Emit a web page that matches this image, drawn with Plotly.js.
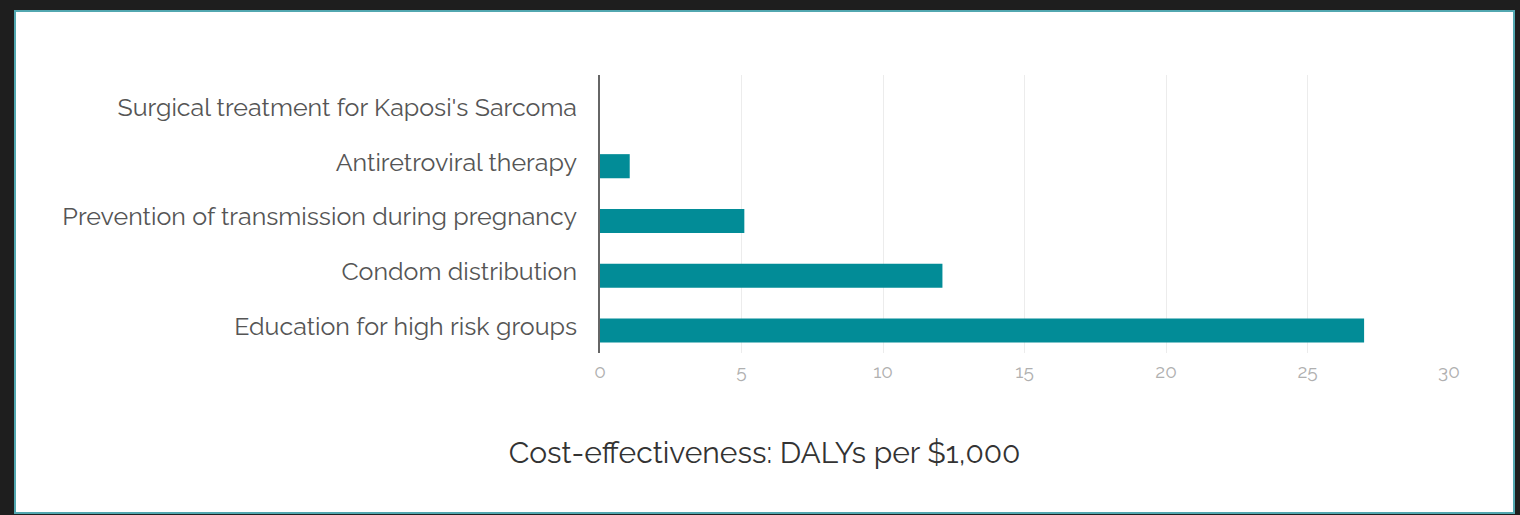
<!DOCTYPE html>
<html>
<head>
<meta charset="utf-8">
<script src="https://cdn.plot.ly/plotly-3.0.1.min.js"></script>
<style>
  html, body { margin: 0; padding: 0; background: #1e1e1e; width: 1520px; height: 515px; overflow: hidden; }
  #frame { position: absolute; left: 14px; top: 10px; width: 1497px; height: 500px; border: 2px solid #52a7b0; background: #ffffff; }
  #chart { position: absolute; left: 0; top: 0; width: 1520px; height: 515px; }
</style>
</head>
<body>
<div id="frame"></div>
<div id="chart"></div>
<script>
// Data (bottom to top)
const categories = [
  "Education for high risk groups",
  "Condom distribution",
  "Prevention of transmission during pregnancy",
  "Antiretroviral therapy",
  "Surgical treatment for Kaposi's Sarcoma"
];
const dalysPer1000 = [27.0, 12.1, 5.1, 1.05, 0];
const xTickValues = [0, 5, 10, 15, 20, 25, 30];
const titleText = "Cost-effectiveness: DALYs per $1,000";

const trace = {
  type: "bar",
  orientation: "h",
  y: categories,
  x: dalysPer1000,
  width: 0.44,
  offset: -0.30,
  marker: { color: "#028c97", line: { width: 0 } },
  hoverinfo: "x+y"
};

const layout = {
  width: 1520,
  height: 515,
  margin: { l: 600, r: 71, t: 75, b: 162 },
  paper_bgcolor: "rgba(0,0,0,0)",
  plot_bgcolor: "rgba(0,0,0,0)",
  showlegend: false,
  font: { family: "Raleway, Lato, 'Open Sans', sans-serif" },
  title: {
    text: titleText,
    xref: "container",
    x: 0.503,
    xanchor: "center",
    yref: "container",
    y: 0.122,
    yanchor: "middle",
    font: { size: 30, color: "#333333", family: "Raleway, Lato, sans-serif" }
  },
  xaxis: {
    range: [0, 30],
    tickvals: xTickValues,
    ticktext: xTickValues.map(String),
    showgrid: true,
    gridcolor: "#ececec",
    gridwidth: 1,
    zeroline: false,
    showline: false,
    ticks: "",
    ticklabelstandoff: 5,
    tickfont: { size: 19, color: "#b0b0b0", family: "Raleway, Lato, sans-serif" },
    fixedrange: true
  },
  yaxis: {
    type: "category",
    range: [-0.49, 4.585],
    showgrid: false,
    zeroline: false,
    showline: true,
    linecolor: "#666666",
    linewidth: 2,
    ticks: "",
    ticklabelstandoff: 16,
    tickfont: { size: 25, color: "#555555", family: "Raleway, Lato, sans-serif" },
    fixedrange: true
  },
  bargap: 0.56
};

Plotly.newPlot("chart", [trace], layout, { displayModeBar: false, staticPlot: true });
</script>
</body>
</html>
